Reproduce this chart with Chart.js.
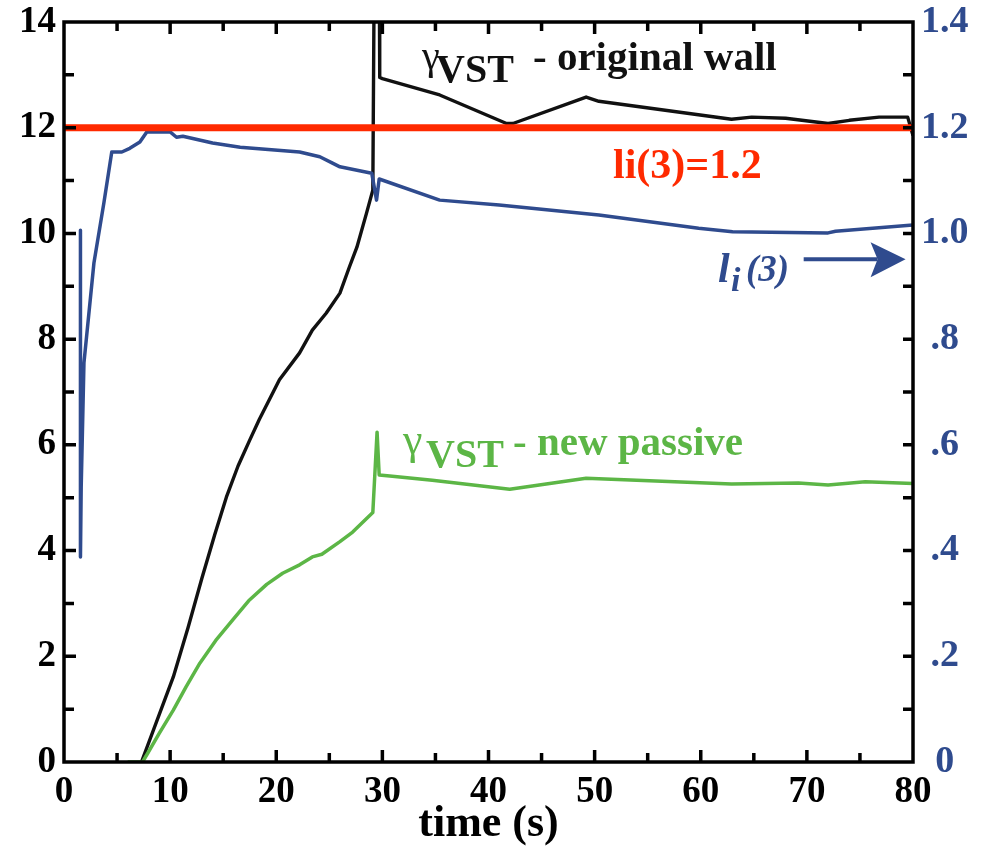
<!DOCTYPE html>
<html>
<head>
<meta charset="utf-8">
<script src="https://cdn.jsdelivr.net/npm/chart.js@4.4.1/dist/chart.umd.min.js"></script>
<style>
  html, body { margin: 0; padding: 0; background: #fff; }
  #wrap { width: 986px; height: 854px; }
</style>
</head>
<body>
<div id="wrap"><canvas id="vstChart" width="986" height="854"></canvas></div>
<script>
// gamma VST, original wall (left axis)
const wallTime = [7.3, 10.3, 11.7, 13.0, 14.2, 15.3, 16.4, 17.5, 18.4, 20.3, 22.2, 23.4, 24.7, 26.0, 26.9, 27.6, 28.5, 29.1,
  29.25, 29.7, 29.75, 30.0, 35.4, 41.7, 42.3, 49.2, 50.4, 62.9, 64.8, 68.0, 72.0, 74.0, 76.8, 79.5, 80.0];
const wallGamma = [0, 1.61, 2.55, 3.48, 4.3, 5.01, 5.6, 6.09, 6.48, 7.23, 7.74, 8.17, 8.49, 8.87, 9.37, 9.74, 10.38, 10.82,
  15.5, 15.5, 12.95, 12.93, 12.62, 12.08, 12.08, 12.58, 12.5, 12.16, 12.2, 12.18, 12.08, 12.14, 12.2, 12.2, 11.85];

// gamma VST, new passive structure (left axis)
const passiveTime = [6.0, 7.4, 7.9, 9.0, 10.3, 11.5, 12.8, 14.3, 15.9, 17.4, 19.1, 20.6, 22.2, 23.4, 24.3, 26.0, 27.2,
  29.1, 29.5, 29.7, 30.7, 34.7, 42.0, 49.2, 62.9, 69.2, 72.0, 75.5, 80.0];
const passiveGamma = [0, 0, 0.17, 0.55, 0.98, 1.42, 1.87, 2.3, 2.69, 3.05, 3.36, 3.57, 3.73, 3.88, 3.93, 4.17, 4.35,
  4.72, 6.24, 5.43, 5.41, 5.33, 5.16, 5.37, 5.26, 5.28, 5.24, 5.3, 5.27];

// internal inductance li(3) (right axis)
const liTime = [1.55, 1.55, 1.62, 1.88, 2.82, 3.76, 4.5, 5.45, 6.2, 7.15, 7.8, 10.0, 10.6, 11.2, 14.0, 16.6,
  22.2, 24.1, 25.3, 26.0, 29.0, 29.45, 29.7, 35.4, 41.0, 50.4, 59.8, 63.0, 72.0, 72.7, 80.0];
const liValue = [1.006, 0.388, 0.52, 0.755, 0.944, 1.058, 1.154, 1.154, 1.161, 1.173, 1.192, 1.192, 1.182, 1.184, 1.171, 1.163,
  1.154, 1.145, 1.133, 1.126, 1.114, 1.063, 1.103, 1.063, 1.054, 1.035, 1.01, 1.003, 1.001, 1.004, 1.016];

// li(3) = 1.2 reference level (right axis)
const refTime = [0, 80];
const refValue = [1.2, 1.2];

const leftTicks = [0, 2, 4, 6, 8, 10, 12, 14];
const rightTicks = [0, 0.2, 0.4, 0.6, 0.8, 1.0, 1.2, 1.4];
const timeTicks = [0, 10, 20, 30, 40, 50, 60, 70, 80];

const BLACK = '#111111';
const BLUE = '#2f4b8e';
const GREEN = '#5cb646';
const RED = '#ff2a00';
const SERIF = "'Liberation Serif', 'Times New Roman', serif";

const toPoints = (xs, ys) => xs.map((x, i) => ({ x: x, y: ys[i] }));

// inward tick marks and the box around the plot
const framePlugin = {
  id: 'frame',
  afterDatasetsDraw(chart) {
    const { ctx, chartArea: a, scales } = chart;
    const x = scales.x, y = scales.y, y1 = scales.y1;
    ctx.save();
    ctx.strokeStyle = '#000';
    ctx.lineWidth = 3.5;
    ctx.lineCap = 'butt';
    ctx.beginPath();
    for (let v = 1; v < 14; v++) {
      const py = y.getPixelForValue(v);
      ctx.moveTo(a.left, py);
      ctx.lineTo(a.left + (v % 2 === 0 ? 12 : 10), py);
    }
    for (let k = 1; k < 14; k++) {
      const py = y1.getPixelForValue(k / 10);
      ctx.moveTo(a.right, py);
      ctx.lineTo(a.right - 10, py);
    }
    for (let t = 5; t < 80; t += 5) {
      const px = x.getPixelForValue(t);
      const len = t % 10 === 0 ? 12 : 9;
      ctx.moveTo(px, a.bottom);
      ctx.lineTo(px, a.bottom - len);
      ctx.moveTo(px, a.top);
      ctx.lineTo(px, a.top + len);
    }
    ctx.stroke();
    ctx.lineJoin = 'miter';
    ctx.strokeRect(a.left, a.top, a.right - a.left, a.bottom - a.top);
    ctx.restore();
  },
  afterDraw(chart) {
    const { ctx, scales } = chart;
    const x = scales.x, y1 = scales.y1;
    ctx.save();
    ctx.textBaseline = 'alphabetic';
    ctx.textAlign = 'left';

    const put = (str, px, py, font, color) => {
      ctx.font = font;
      ctx.fillStyle = color;
      ctx.fillText(str, px, py);
    };

    put('γ', 422, 69, '40px ' + SERIF, BLACK);
    put('VST', 436, 82, 'bold 40px ' + SERIF, BLACK);
    put('- original wall', 533, 70, 'bold 41px ' + SERIF, BLACK);

    put('γ', 403, 454, '44px ' + SERIF, GREEN);
    put('VST', 426, 467, 'bold 40px ' + SERIF, GREEN);
    put('- new passive', 513, 455, 'bold 41px ' + SERIF, GREEN);

    put('li(3)=1.2', 613, 178, 'bold 42px ' + SERIF, RED);

    put('l', 718, 282, 'italic bold 42px ' + SERIF, BLUE);
    put('i', 731, 291, 'italic bold 34px ' + SERIF, BLUE);
    put('(3)', 746, 281, 'italic bold 37px ' + SERIF, BLUE);

    // arrow pointing at the li(3) axis
    const ay = y1.getPixelForValue(0.951);
    const ax0 = x.getPixelForValue(69.7);
    const tip = x.getPixelForValue(79.3);
    ctx.strokeStyle = BLUE;
    ctx.lineWidth = 4;
    ctx.beginPath();
    ctx.moveTo(ax0, ay);
    ctx.lineTo(tip - 28, ay);
    ctx.stroke();
    ctx.fillStyle = BLUE;
    ctx.beginPath();
    ctx.moveTo(tip, ay);
    ctx.lineTo(tip - 35, ay - 17);
    ctx.lineTo(tip - 28, ay);
    ctx.lineTo(tip - 35, ay + 18);
    ctx.closePath();
    ctx.fill();
    ctx.restore();
  }
};

Chart.defaults.font.family = SERIF;

new Chart(document.getElementById('vstChart'), {
  type: 'line',
  data: {
    datasets: [
      { data: toPoints(refTime, refValue), yAxisID: 'y1', borderColor: RED, borderWidth: 7 },
      { data: toPoints(liTime, liValue), yAxisID: 'y1', borderColor: BLUE, borderWidth: 3.5 },
      { data: toPoints(passiveTime, passiveGamma), yAxisID: 'y', borderColor: GREEN, borderWidth: 3.5 },
      { data: toPoints(wallTime, wallGamma), yAxisID: 'y', borderColor: BLACK, borderWidth: 3.4 }
    ]
  },
  options: {
    responsive: false,
    animation: false,
    events: [],
    layout: { padding: { top: 22, left: 0, right: 0, bottom: 0 } },
    elements: {
      point: { radius: 0 },
      line: { tension: 0, borderCapStyle: 'butt', borderJoinStyle: 'round', fill: false }
    },
    plugins: { legend: { display: false }, tooltip: { enabled: false } },
    scales: {
      x: {
        type: 'linear',
        min: 0, max: 80,
        afterFit: s => { s.height = 92; },
        afterBuildTicks: s => { s.ticks = timeTicks.map(v => ({ value: v })); },
        grid: { display: false, drawTicks: false },
        border: { display: false },
        ticks: { padding: 8, color: '#000', font: { size: 37, weight: 'bold' }, maxRotation: 0 },
        title: { display: true, text: 'time (s)', color: '#000', padding: { top: 0, bottom: 3 },
          font: { size: 44, weight: 'bold' } }
      },
      y: {
        position: 'left',
        min: 0, max: 14,
        afterFit: s => { s.width = 64; },
        afterBuildTicks: s => { s.ticks = leftTicks.map(v => ({ value: v })); },
        grid: { display: false, drawTicks: false },
        border: { display: false },
        ticks: { padding: 8, color: '#000', font: { size: 37, weight: 'bold', lineHeight: 0.7 } }
      },
      y1: {
        position: 'right',
        min: 0, max: 1.4,
        afterFit: s => { s.width = 73; },
        afterBuildTicks: s => { s.ticks = rightTicks.map(v => ({ value: v })); },
        grid: { display: false, drawTicks: false },
        border: { display: false },
        ticks: {
          padding: 8, color: BLUE, crossAlign: 'center', font: { size: 38, weight: 'bold', lineHeight: 0.7 },
          callback: v => v === 0 ? '0' : (v >= 1 ? v.toFixed(1) : v.toFixed(1).slice(1))
        }
      }
    }
  },
  plugins: [framePlugin]
});
</script>
</body>
</html>
